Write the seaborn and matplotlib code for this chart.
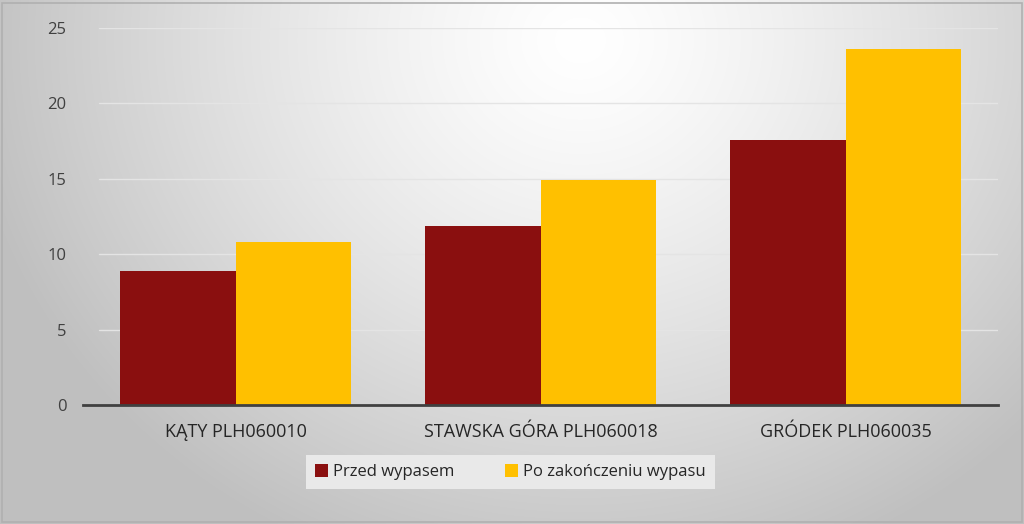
import numpy as np
import pandas as pd
import matplotlib
matplotlib.use("Agg")
import matplotlib.pyplot as plt
from matplotlib.patches import Rectangle
import seaborn as sns

categories = ["KĄTY PLH060010", "STAWSKA GÓRA PLH060018", "GRÓDEK PLH060035"]
series_names = ["Przed wypasem", "Po zakończeniu wypasu"]
przed = [8.9, 11.9, 17.6]
po = [10.8, 14.9, 23.6]
yticks = [0, 5, 10, 15, 20, 25]
colors = ["#8A0F0F", "#FFC000"]

df = pd.DataFrame({
    "cat": categories * 2,
    "series": [series_names[0]] * 3 + [series_names[1]] * 3,
    "val": przed + po,
})

sns.set_theme(style="white")
plt.rcParams["font.family"] = ["Open Sans", "DejaVu Sans"]

W, H = 1024, 524
fig = plt.figure(figsize=(W / 100, H / 100), dpi=100)

# radial gradient background
bg = fig.add_axes([0, 0, 1, 1], zorder=-10)
yy, xx = np.mgrid[0:H, 0:W]
cx, cy = 580, 40
d = np.sqrt(((xx - cx) / 620.0) ** 2 + ((yy - cy) / 560.0) ** 2)
d = np.clip(d, 0, 1)
v = 1.0 - 0.25 * d ** 1.3
img = np.dstack([v, v, v])
bg.imshow(img, aspect="auto", extent=[0, 1, 0, 1], origin="upper")
bg.set_axis_off()
bg.add_patch(Rectangle((0.002, 0.004), 0.996, 0.99, transform=bg.transAxes,
                       fill=False, edgecolor="#b0b0b0", lw=1.2))

ax = fig.add_axes([83 / W, 1 - 405 / H, (998 - 83) / W, (405 - 28) / H])
ax.patch.set_alpha(0)
sns.barplot(data=df, x="cat", y="val", hue="series", hue_order=series_names,
            palette=colors, width=0.757, saturation=1, ax=ax, legend=True,
            edgecolor="none", linewidth=0)

ax.set_xlim(-0.5, 2.5)
ax.set_ylim(0, 25)
ax.set_yticks(yticks)
ax.set_yticklabels([str(t) for t in yticks], fontsize=12, color="#404040")
ax.set_xlabel("")
ax.set_ylabel("")
ax.tick_params(axis="x", labelsize=13, colors="#262626", length=0, pad=13)
ax.tick_params(axis="y", length=0, pad=12)
for t in yticks[1:]:
    ax.axhline(t, xmin=0.018, xmax=1.0, color="#e4e4e4", lw=1, zorder=0)
for s in ["top", "right", "left"]:
    ax.spines[s].set_visible(False)
ax.spines["bottom"].set_color("#404040")
ax.spines["bottom"].set_linewidth(2)

handles, labels = ax.get_legend_handles_labels()
ax.legend(handles, labels, loc="upper center", bbox_to_anchor=(0.467, -0.132),
          ncol=2, frameon=True, fancybox=False, facecolor="#e9e9e9",
          edgecolor="none", framealpha=1, fontsize=12,
          handlelength=0.8, handleheight=0.8, handletextpad=0.3,
          columnspacing=3.0, borderpad=0.55, borderaxespad=0,
          labelcolor="#262626")
leg = ax.get_legend()
leg._legend_box.sep = 0

fig.savefig("out.png", dpi=100)
